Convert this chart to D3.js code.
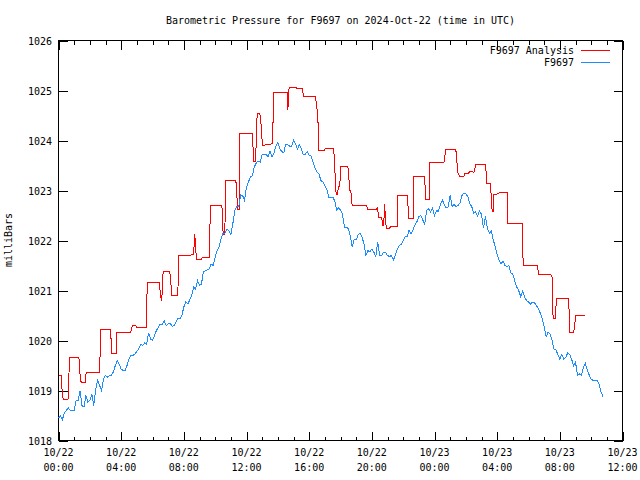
<!DOCTYPE html>
<html>
<head>
<meta charset="utf-8">
<script src="https://cdn.jsdelivr.net/npm/d3@7"></script>
<style>
  html, body { margin: 0; padding: 0; background: #fff; }
  svg { display: block; }
  text { font-family: "DejaVu Sans Mono", "Liberation Mono", monospace; font-size: 10px; fill: #000; }
</style>
</head>
<body>
<svg id="chart" width="640" height="480"></svg>
<script>
// ---------------- DATA ----------------
const chartTitle = "Barometric Pressure for F9697 on 2024-Oct-22 (time in UTC)";
const yLabel = "milliBars";
const seriesNames = ["F9697 Analysis", "F9697"];
const startTime = "2024-10-22T00:00:00Z";
const endTime = "2024-10-23T12:00:00Z";
const yTickValues = [1018, 1019, 1020, 1021, 1022, 1023, 1024, 1025, 1026];
const xTickStepHours = 4;

// F9697 Analysis (hours after start, mbar)
const analysisHours = [
  0.00, 0.17, 0.21, 0.30, 0.62, 0.70, 1.30, 1.32, 1.40, 1.45, 1.70, 1.76, 2.00, 2.10, 2.62, 2.70,
  3.32, 3.40, 3.68, 3.72, 4.62, 4.72, 4.90, 4.98, 5.62, 5.66, 6.42, 6.50, 6.56, 6.62, 6.68,
  7.10, 7.24, 7.62, 7.66, 8.49, 8.62, 8.70, 8.74, 8.81, 9.13, 9.20, 9.62, 9.70,
  10.43, 10.51, 10.62, 10.66, 11.32, 11.44, 11.55, 11.57, 12.36, 12.47, 12.58, 12.68, 12.79, 12.89, 13.02,
  13.57, 13.66, 13.74, 14.60, 14.64, 14.72, 15.13, 15.20, 15.55, 15.66, 16.40, 16.55, 16.62, 16.98, 17.04,
  17.50, 17.57, 17.72, 17.80, 17.89, 17.96, 18.00, 18.47, 18.60, 18.66, 18.74,
  19.64, 19.74, 20.30, 20.35, 20.45, 20.62, 20.70, 20.76, 20.81, 20.92, 21.08, 21.20, 21.30, 21.62, 21.66,
  22.26, 22.36, 22.64, 22.68, 23.36, 23.45, 23.66, 23.70, 24.60, 24.72,
  25.36, 25.49, 25.62, 25.87, 25.96, 26.19, 26.26, 26.41, 26.51, 26.64,
  27.27, 27.32, 27.57, 27.68, 27.75, 27.79, 28.00, 28.21, 28.64, 28.68,
  29.60, 29.66, 30.55, 30.66, 31.40, 31.51, 31.57, 31.70, 31.79, 32.57, 32.62, 32.89, 33.02, 33.59
];
const analysisValues = [
  1019.31, 1019.31, 1019.07, 1018.82, 1018.83, 1019.66, 1019.66, 1019.60, 1019.20, 1019.17, 1019.17, 1019.35, 1019.37, 1019.37, 1019.35, 1020.23,
  1020.23, 1019.75, 1019.75, 1020.17, 1020.17, 1020.31, 1020.31, 1020.27, 1020.27, 1021.17, 1021.17, 1020.95, 1020.80, 1020.95, 1021.39,
  1021.39, 1020.91, 1020.91, 1021.70, 1021.71, 1021.73, 1022.12, 1021.90, 1021.63, 1021.63, 1021.67, 1021.67, 1022.71,
  1022.71, 1022.13, 1022.13, 1023.21, 1023.21, 1022.63, 1022.63, 1024.15, 1024.15, 1023.59, 1023.59, 1024.53, 1024.55, 1024.49, 1023.90,
  1023.93, 1023.95, 1024.97, 1024.97, 1024.61, 1025.07, 1025.07, 1025.04, 1025.04, 1024.88, 1024.88, 1024.50, 1023.81, 1023.81, 1023.85,
  1023.85, 1023.83, 1022.93, 1022.93, 1023.09, 1023.09, 1023.49, 1023.49, 1023.00, 1023.00, 1022.71,
  1022.71, 1022.62, 1022.62, 1022.65, 1022.47, 1022.47, 1022.30, 1022.30, 1022.73, 1022.25, 1022.23, 1022.27, 1022.29, 1022.29, 1022.91,
  1022.91, 1022.45, 1022.45, 1023.29, 1023.29, 1022.83, 1022.83, 1023.56, 1023.56, 1023.83,
  1023.83, 1023.35, 1023.28, 1023.28, 1023.35, 1023.35, 1023.39, 1023.39, 1023.35, 1023.53,
  1023.53, 1023.15, 1023.15, 1022.58, 1022.58, 1022.93, 1022.93, 1022.97, 1022.97, 1022.34,
  1022.34, 1021.51, 1021.51, 1021.33, 1021.33, 1021.27, 1020.45, 1020.45, 1020.84, 1020.84, 1020.17, 1020.17, 1020.50, 1020.50
];

// F9697 observations, one every 7.5 minutes from start (mbar)
const observedStepMinutes = 7.5;
const observedValues = [
  1018.45, 1018.50, 1018.42, 1018.55, 1018.60, 1018.65, 1018.60, 1018.60, 1018.60, 1018.80,
  1018.80, 1018.99, 1018.70, 1018.67, 1018.90, 1018.77, 1018.80, 1018.93, 1018.70, 1019.03,
  1019.20, 1019.10, 1019.00, 1019.23, 1019.30, 1019.27, 1019.30, 1019.30, 1019.37, 1019.50,
  1019.60, 1019.53, 1019.43, 1019.40, 1019.40, 1019.50, 1019.63, 1019.70, 1019.70, 1019.73,
  1019.78, 1019.84, 1019.92, 1019.90, 1019.95, 1019.92, 1020.15, 1020.03, 1020.00, 1020.10,
  1020.20, 1020.27, 1020.33, 1020.33, 1020.39, 1020.30, 1020.33, 1020.35, 1020.28, 1020.30,
  1020.37, 1020.45, 1020.43, 1020.50, 1020.67, 1020.78, 1020.73, 1020.81, 1020.90, 1021.07,
  1021.03, 1021.20, 1021.10, 1021.13, 1021.37, 1021.40, 1021.41, 1021.43, 1021.53, 1021.50,
  1021.67, 1021.80, 1021.88, 1022.03, 1022.15, 1022.15, 1022.22, 1022.20, 1022.12, 1022.33,
  1022.60, 1022.68, 1022.67, 1022.91, 1022.90, 1022.80, 1023.07, 1023.17, 1023.27, 1023.30,
  1023.47, 1023.55, 1023.59, 1023.57, 1023.73, 1023.73, 1023.73, 1023.67, 1023.79, 1023.67,
  1023.75, 1023.89, 1023.97, 1023.83, 1023.78, 1023.75, 1023.92, 1023.92, 1023.89, 1023.89,
  1024.00, 1023.93, 1023.83, 1023.92, 1023.83, 1023.72, 1023.72, 1023.78, 1023.70, 1023.69,
  1023.57, 1023.45, 1023.37, 1023.33, 1023.20, 1023.17, 1023.09, 1023.03, 1022.87, 1022.87,
  1022.87, 1022.80, 1022.61, 1022.65, 1022.61, 1022.53, 1022.27, 1022.27, 1022.23, 1022.10,
  1021.87, 1022.03, 1022.01, 1022.12, 1022.15, 1022.07, 1021.93, 1021.70, 1021.80, 1021.77,
  1021.83, 1021.77, 1021.67, 1021.97, 1021.70, 1021.70, 1021.77, 1021.77, 1021.70, 1021.68,
  1021.70, 1021.61, 1021.70, 1021.83, 1021.90, 1021.92, 1022.00, 1022.07, 1022.08, 1022.20,
  1022.13, 1022.21, 1022.31, 1022.37, 1022.48, 1022.50, 1022.41, 1022.33, 1022.60, 1022.63,
  1022.57, 1022.65, 1022.50, 1022.60, 1022.58, 1022.72, 1022.81, 1022.72, 1022.65, 1022.67,
  1022.90, 1022.68, 1022.73, 1022.67, 1022.70, 1022.75, 1022.90, 1022.95, 1022.93, 1022.88,
  1022.73, 1022.68, 1022.55, 1022.57, 1022.49, 1022.59, 1022.52, 1022.25, 1022.48, 1022.25,
  1022.15, 1022.19, 1022.01, 1021.88, 1021.71, 1021.61, 1021.53, 1021.59, 1021.50, 1021.48,
  1021.50, 1021.35, 1021.33, 1021.19, 1021.07, 1021.00, 1020.88, 1020.99, 1020.87, 1020.80,
  1020.77, 1020.73, 1020.77, 1020.76, 1020.70, 1020.64, 1020.55, 1020.43, 1020.28, 1020.07,
  1020.17, 1020.13, 1020.01, 1019.83, 1019.81, 1019.72, 1019.63, 1019.72, 1019.63, 1019.66,
  1019.75, 1019.72, 1019.63, 1019.50, 1019.57, 1019.30, 1019.33, 1019.31, 1019.45, 1019.55,
  1019.41, 1019.31, 1019.23, 1019.20, 1019.20, 1019.20, 1019.13, 1018.98, 1018.88
];

const seriesColors = ["#ff0000", "#1e8cff"];

// ---------------- CHART ----------------
const svg = d3.select("#chart");
const plotLeft = 58.5, plotRight = 622.5, plotTop = 40.5, plotBottom = 440.5;

const t0 = new Date(startTime), t1 = new Date(endTime);
const x = d3.scaleUtc().domain([t0, t1]).range([plotLeft, plotRight]);
const y = d3.scaleLinear().domain([1018, 1026]).range([plotBottom, plotTop]);

const hourMs = 3600 * 1000;
const analysisData = analysisHours.map((h, i) => ({ t: new Date(+t0 + h * hourMs), v: analysisValues[i] }));
const observedData = observedValues.map((v, i) => ({ t: new Date(+t0 + i * observedStepMinutes * 60000), v }));

const majorTicks = d3.utcHour.every(xTickStepHours).range(t0, new Date(+t1 + 1));
const minorTicks = d3.utcHour.every(1).range(t0, new Date(+t1 + 1)).filter(d => d.getUTCHours() % xTickStepHours !== 0);

const fmtDate = d3.utcFormat("%m/%d");
const fmtTime = d3.utcFormat("%H:%M");

// bottom axis (ticks inward)
svg.append("g").attr("transform", `translate(0,${plotBottom})`)
  .call(d3.axisBottom(x).tickValues(majorTicks).tickSizeInner(-9).tickSizeOuter(0).tickFormat(""));
svg.append("g").attr("transform", `translate(0,${plotBottom})`)
  .call(d3.axisBottom(x).tickValues(minorTicks).tickSizeInner(-4).tickSizeOuter(0).tickFormat(""));
// top axis mirror
svg.append("g").attr("transform", `translate(0,${plotTop})`)
  .call(d3.axisTop(x).tickValues(majorTicks).tickSizeInner(-9).tickSizeOuter(0).tickFormat(""));
svg.append("g").attr("transform", `translate(0,${plotTop})`)
  .call(d3.axisTop(x).tickValues(minorTicks).tickSizeInner(-4).tickSizeOuter(0).tickFormat(""));
// left axis
svg.append("g").attr("transform", `translate(${plotLeft},0)`)
  .call(d3.axisLeft(y).tickValues(yTickValues).tickSizeInner(-9).tickSizeOuter(0).tickFormat(""));
// right axis
svg.append("g").attr("transform", `translate(${plotRight},0)`)
  .call(d3.axisRight(y).tickValues(yTickValues).tickSizeInner(-9).tickSizeOuter(0).tickFormat(""));

svg.selectAll(".domain").remove();
svg.selectAll(".tick line").attr("stroke", "#000").attr("shape-rendering", "crispEdges");

// x labels (two lines)
const xl = svg.append("g");
majorTicks.forEach(d => {
  const tx = xl.append("text").attr("text-anchor", "middle").attr("x", x(d));
  tx.append("tspan").attr("x", x(d)).attr("y", 456).text(fmtDate(d));
  tx.append("tspan").attr("x", x(d)).attr("y", 471).text(fmtTime(d));
});
// y labels
svg.append("g").selectAll("text").data(yTickValues).join("text")
  .attr("x", 52).attr("y", d => y(d) + 4).attr("text-anchor", "end").text(d => d);

// border
svg.append("rect").attr("x", plotLeft).attr("y", plotTop).attr("width", plotRight - plotLeft).attr("height", plotBottom - plotTop)
  .attr("fill", "none").attr("stroke", "#000").attr("shape-rendering", "crispEdges");

// lines
const line = d3.line().x(d => x(d.t)).y(d => y(d.v));
svg.append("path").datum(analysisData).attr("d", line)
  .attr("fill", "none").attr("stroke", seriesColors[0]).attr("stroke-width", 1).attr("shape-rendering", "crispEdges");
svg.append("path").datum(observedData).attr("d", line)
  .attr("fill", "none").attr("stroke", seriesColors[1]).attr("stroke-width", 1).attr("shape-rendering", "crispEdges");

// title
svg.append("text").attr("x", (plotLeft + plotRight) / 2).attr("y", 24).attr("text-anchor", "middle").text(chartTitle);
// y label
svg.append("text").attr("transform", "translate(12,240) rotate(-90)").attr("text-anchor", "middle").text(yLabel);

// legend
const legY = [50, 62];
seriesNames.forEach((n, i) => {
  svg.append("text").attr("x", 574).attr("y", legY[i] + 4).attr("text-anchor", "end").text(n);
  svg.append("line").attr("x1", 581).attr("x2", 610).attr("y1", legY[i] + 0.5).attr("y2", legY[i] + 0.5)
    .attr("stroke", seriesColors[i]).attr("stroke-width", 1).attr("shape-rendering", "crispEdges");
});
</script>
</body>
</html>
